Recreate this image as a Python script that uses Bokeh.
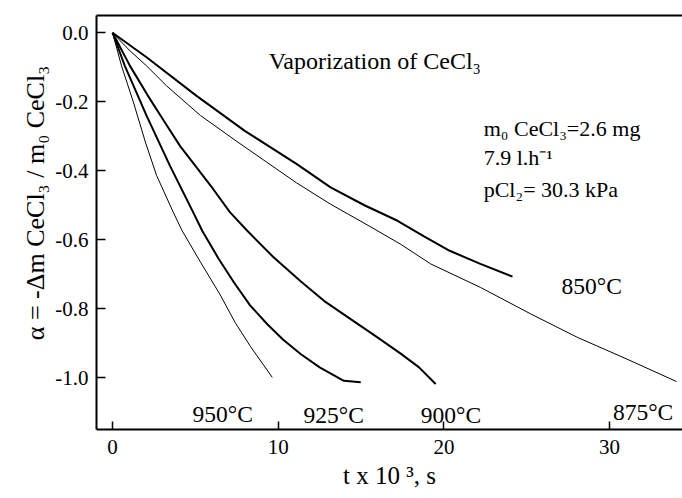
import math
from bokeh.plotting import figure
from bokeh.models import Range1d, FixedTicker, LinearAxis, Label, PrintfTickFormatter
from bokeh.embed import file_html
from bokeh.resources import INLINE

# ---- data (t in 10^3 s, alpha) ----
t_850 = [0, 2.05, 5.07, 8.0, 11.1, 13.16, 15.2, 17.2, 18.8, 20.35, 22.2, 24.14]
a_850 = [0, -0.071, -0.183, -0.285, -0.38, -0.448, -0.5, -0.545, -0.59, -0.632, -0.67, -0.707]

t_875 = [0, 1.0, 2.05, 3.26, 5.31, 7.5, 9.3, 11.1, 13.16, 15.3, 17.39, 19.2, 22.2, 25.24, 28.06, 31.0, 34.04]
a_875 = [0, -0.05, -0.096, -0.154, -0.24, -0.315, -0.375, -0.435, -0.497, -0.555, -0.613, -0.67, -0.738, -0.815, -0.883, -0.945, -1.011]

t_900 = [0, 1.05, 2.1, 3.16, 4.1, 5.07, 6.1, 7.08, 8.13, 9.7, 11.35, 12.76, 14.37, 15.9, 17.39, 18.5, 19.5]
a_900 = [0, -0.096, -0.18, -0.26, -0.33, -0.39, -0.455, -0.52, -0.574, -0.65, -0.72, -0.777, -0.83, -0.88, -0.93, -0.97, -1.018]

t_925 = [0, 0.74, 2.05, 3.46, 4.86, 5.41, 6.4, 7.33, 8.3, 9.34, 10.3, 11.35, 12.5, 13.96, 14.98]
a_925 = [0, -0.096, -0.24, -0.385, -0.52, -0.574, -0.655, -0.724, -0.79, -0.845, -0.89, -0.931, -0.97, -1.009, -1.013]

t_950 = [0, 0.54, 1.25, 2.0, 2.66, 3.66, 4.2, 5.31, 6.5, 7.4, 8.33, 9.64]
a_950 = [0, -0.096, -0.20, -0.32, -0.414, -0.52, -0.574, -0.665, -0.76, -0.84, -0.91, -0.999]

x_ticks = [0, 10, 20, 30]
y_ticks = [0.0, -0.2, -0.4, -0.6, -0.8, -1.0]

temp_labels = ["850\u00b0C", "875\u00b0C", "900\u00b0C", "925\u00b0C", "950\u00b0C"]
temp_label_t = [27.1, 30.2, 18.6, 11.53, 4.83]
temp_label_a = [-0.733, -1.099, -1.107, -1.107, -1.104]

FONT = "Liberation Serif"

p = figure(width=682, height=498, output_backend="svg", toolbar_location=None,
           x_range=Range1d(-0.97, 34.4), y_range=Range1d(-1.15, 0.05),
           min_border_left=96, min_border_right=0, min_border_top=15, min_border_bottom=69,
           outline_line_color=None, background_fill_color="white", border_fill_color="white")
p.xgrid.visible = False
p.ygrid.visible = False

for ax, ticks, tin in ((p.xaxis[0], x_ticks, 8), (p.yaxis[0], y_ticks, 9)):
    ax.ticker = FixedTicker(ticks=ticks)
    ax.major_tick_in = tin
    ax.major_tick_out = 0
    ax.minor_tick_line_color = None
    ax.axis_line_width = 2
    ax.major_tick_line_width = 1.5
    ax.major_label_text_font = FONT
    ax.major_label_text_font_size = "21px"
    ax.major_label_text_color = "black"
    ax.axis_label_text_font = FONT
    ax.axis_label_text_font_style = "normal"
    ax.axis_label_text_color = "black"
p.yaxis[0].formatter = PrintfTickFormatter(format="%.1f")
p.xaxis.major_label_standoff = 10
p.yaxis.major_label_standoff = 8

p.xaxis.axis_label = "t x 10 \u00b3, s"
p.xaxis.axis_label_text_font_size = "25px"
p.xaxis.axis_label_standoff = 5
p.yaxis.axis_label = "\u00a0" * 6 + "\u03b1 = -\u0394m CeCl\u2083 / m\u2080 CeCl\u2083"
p.yaxis.axis_label_text_font_size = "26px"
p.yaxis.axis_label_standoff = 2

top = LinearAxis(ticker=FixedTicker(ticks=[]), axis_line_width=2, major_tick_out=0,
                 major_tick_in=0, minor_tick_line_color=None, major_label_standoff=0,
                 major_label_text_font_size="0px")
p.add_layout(top, "above")

thick = 2.0
thin = 1.0
p.line(t_850, a_850, line_color="black", line_width=thick)
p.line(t_875, a_875, line_color="black", line_width=thin)
p.line(t_900, a_900, line_color="black", line_width=thick)
p.line(t_925, a_925, line_color="black", line_width=thick)
p.line(t_950, a_950, line_color="black", line_width=thin)

def lab(x, y, text, size="22px", align="left"):
    p.add_layout(Label(x=x, y=y, text=text, text_font=FONT, text_font_size=size,
                       text_align=align, text_baseline="alphabetic",
                       text_color="black"))

for txt, tx, ty in zip(temp_labels, temp_label_t, temp_label_a):
    lab(tx, ty, txt, size="23.5px")

lab(9.42, -0.081, "Vaporization of CeCl\u2083", size="24px")
lab(22.4, -0.277, "m\u2080 CeCl\u2083=2.6 mg")
lab(22.4, -0.361, "7.9 l.h\u207b\u00b9")
lab(22.4, -0.455, "pCl\u2082= 30.3 kPa")

open("out.html", "w").write(file_html(p, INLINE))
